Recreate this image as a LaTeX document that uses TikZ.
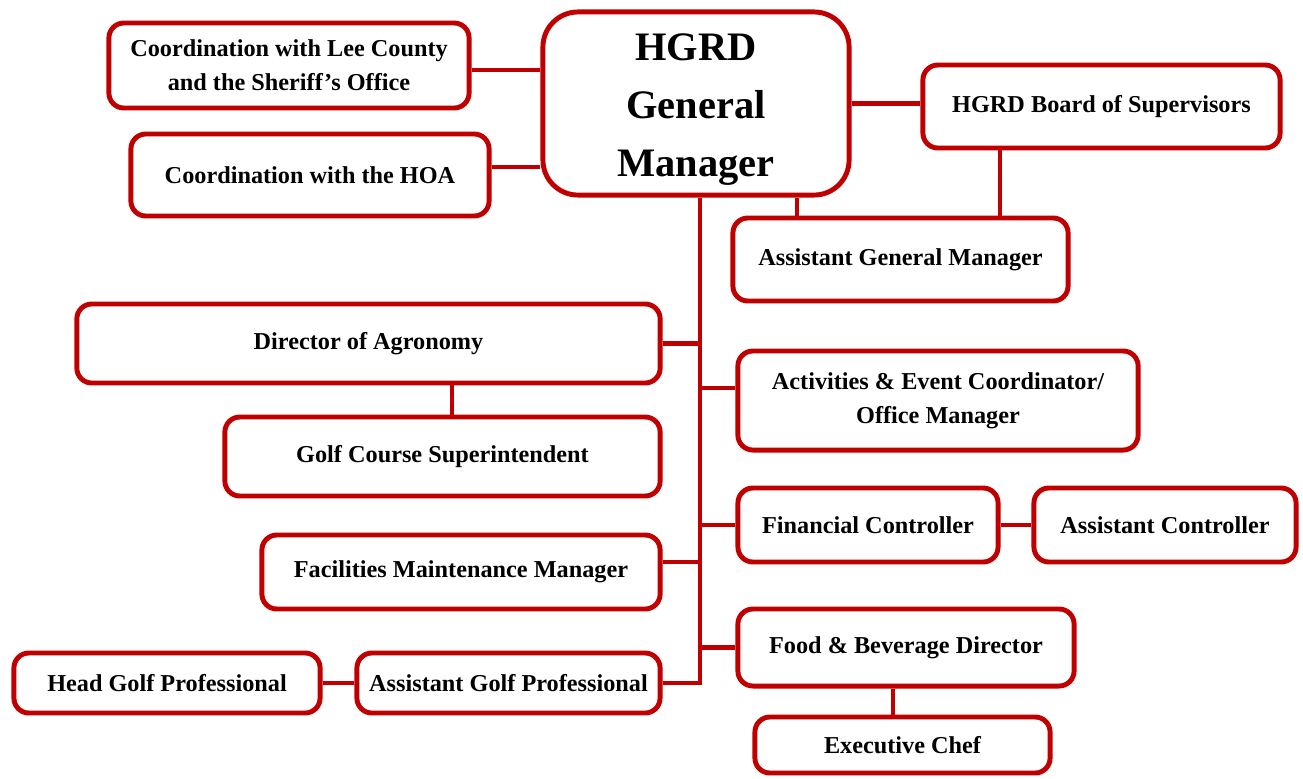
\documentclass[tikz,border=0pt]{standalone}
\usepackage{fontspec}
\setmainfont{Liberation Serif}
\definecolor{orgred}{HTML}{C00000}

\begin{document}
\begin{tikzpicture}[x=0.01cm, y=-0.01cm,
	orgbox/.style={draw=orgred, line width=1.4pt, rectangle, rounded corners=0.15cm, align=center, inner sep=0pt, font=\fontsize{6.9}{9.7}\selectfont\bfseries},
	link/.style={draw=orgred, line width=1.2pt}]
				\useasboundingbox (0,0) rectangle (1303,778);
				\node[orgbox, rounded corners=0.35cm, minimum width=3.06cm, minimum height=1.83cm, font=\fontsize{11.5}{16.5}\selectfont\bfseries] (gm)at(696, 103.5) {\rule{0pt}{11.2pt}HGRD\\General\\Manager};
				\node[orgbox, minimum width=3.6cm, minimum height=0.85cm] (lee)at(289, 65.5) {Coordination with Lee County\\and the Sheriff's Office};
				\node[orgbox, minimum width=3.58cm, minimum height=0.82cm] (hoa)at(310, 175) {Coordination with the HOA};
				\node[orgbox, minimum width=3.57cm, minimum height=0.83cm] (board)at(1101.5, 106.5) {HGRD Board of Supervisors};
				\node[orgbox, minimum width=3.35cm, minimum height=0.83cm] (agm)at(900.5, 259.5) {Assistant General Manager};
				\node[orgbox, minimum width=5.83cm, minimum height=0.79cm] (agro)at(368.5, 343.5) {Director of Agronomy};
				\node[orgbox, minimum width=4.35cm, minimum height=0.79cm] (super)at(442.5, 456.5) {Golf Course Superintendent};
				\node[orgbox, minimum width=4cm, minimum height=0.99cm] (events)at(938, 400.5) {Activities \& Event Coordinator/\\Office Manager};
				\node[orgbox, minimum width=2.6cm, minimum height=0.74cm] (finance)at(868, 525) {Financial Controller};
				\node[orgbox, minimum width=2.62cm, minimum height=0.74cm] (asstctrl)at(1165, 525) {Assistant Controller};
				\node[orgbox, minimum width=3.98cm, minimum height=0.74cm] (facil)at(461, 572) {Facilities Maintenance Manager};
				\node[orgbox, minimum width=3.36cm, minimum height=0.77cm] (fnb)at(906, 647.5) {Food \& Beverage Director};
				\node[orgbox, minimum width=2.95cm, minimum height=0.56cm] (chef)at(902.5, 745) {Executive Chef};
				\node[orgbox, minimum width=3.06cm, minimum height=0.6cm] (headpro)at(167, 683) {Head Golf Professional};
				\node[orgbox, minimum width=3.03cm, minimum height=0.6cm] (asstpro)at(508.5, 683) {Assistant Golf Professional};
				\coordinate (trunk) at ([xshift=0.04cm]gm.south);
				\draw[link] (trunk) |- (asstpro.east);
				\draw[link] ([yshift=-0.045cm]lee.east) -- ([yshift=-0.045cm]lee.east -| gm.west);
				\draw[link] ([yshift=0.08cm]hoa.east) -- ([yshift=0.08cm]hoa.east -| gm.west);
				\draw[link] (gm.east) -- (gm.east -| board.west);
				\draw[link] ([xshift=1.01cm]gm.south) -- ([xshift=1.01cm]gm.south |- agm.north);
				\draw[link] ([xshift=-1.015cm]board.south) -- ([xshift=-1.015cm]board.south |- agm.north);
				\draw[link] (agro.east) -- (agro.east -| trunk);
				\draw[link] ([xshift=0.835cm]agro.south) -- ([xshift=0.835cm]agro.south |- super.north);
				\draw[link] ([yshift=0.125cm]events.west) -- ([yshift=0.125cm]events.west -| trunk);
				\draw[link] (finance.west) -- (finance.west -| trunk);
				\draw[link] (finance.east) -- (asstctrl.west);
				\draw[link] ([yshift=0.1cm]facil.east) -- ([yshift=0.1cm]facil.east -| trunk);
				\draw[link] (fnb.west) -- (fnb.west -| trunk);
				\draw[link] ([xshift=-0.13cm]fnb.south) -- ([xshift=-0.13cm]fnb.south |- chef.north);
				\draw[link] (headpro.east) -- (asstpro.west);
			\end{tikzpicture}
\end{document}
